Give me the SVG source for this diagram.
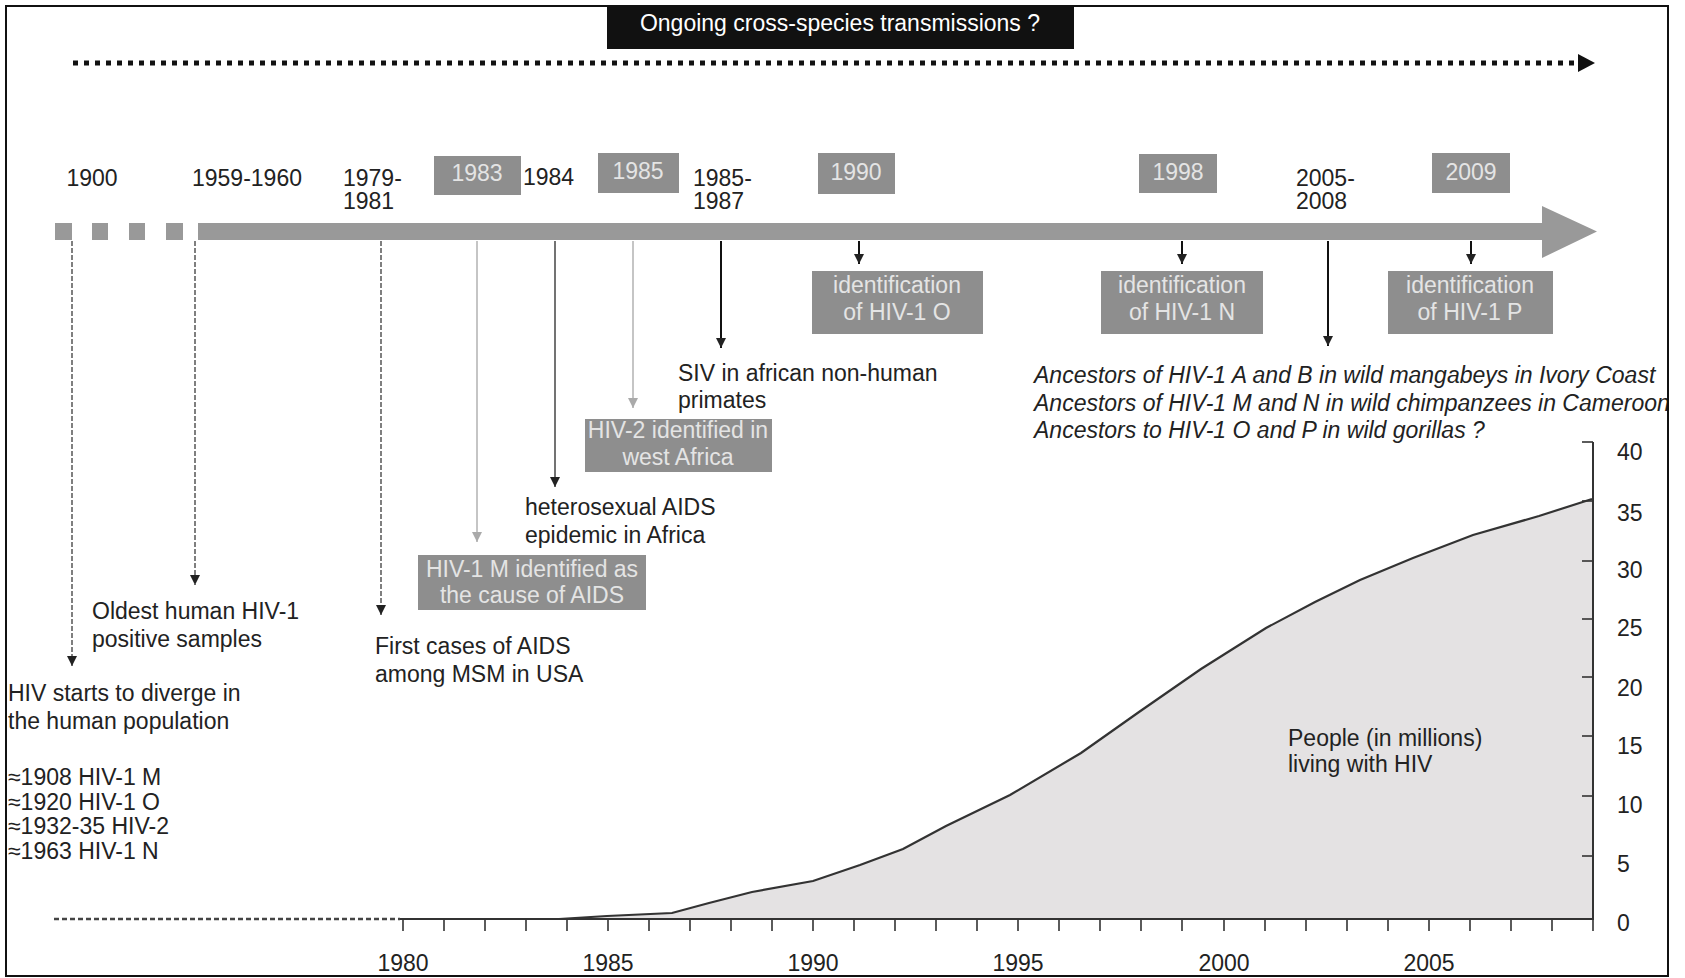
<svg xmlns="http://www.w3.org/2000/svg" width="1685" height="978" viewBox="0 0 1685 978">
<style>
  text { font-family: "Liberation Sans", Arial, sans-serif; font-size: 23px; fill: #222; }
  .it { font-style: italic; }
  .bt { fill: #e4e4e4; text-anchor: middle; }
  .box { fill: #8e8e8e; }
  .c { text-anchor: middle; }
  .vd { stroke: #555; stroke-width: 1.5; stroke-dasharray: 5 2; fill: none; }
  .vl { stroke: #b2b2b2; stroke-width: 1.5; fill: none; }
  .vs { stroke: #444; stroke-width: 1.5; fill: none; }
  .vk { stroke: #111; stroke-width: 2; fill: none; }
  .tick { stroke: #333; stroke-width: 1.6; }
</style>
<defs>
  <marker id="ad" markerUnits="userSpaceOnUse" markerWidth="10" markerHeight="10" refX="10" refY="5" orient="auto">
    <path d="M0,0 L10,5 L0,10 z" fill="#222"/>
  </marker>
  <marker id="al" markerUnits="userSpaceOnUse" markerWidth="10" markerHeight="10" refX="10" refY="5" orient="auto">
    <path d="M0,0 L10,5 L0,10 z" fill="#aaa"/>
  </marker>
  <clipPath id="frameClip"><rect x="6" y="6" width="1662" height="970"/></clipPath>
</defs>
<rect x="0" y="0" width="1685" height="978" fill="#fff"/>

<g clip-path="url(#frameClip)">
<!-- top banner -->
<g id="banner">
  <rect x="607" y="6" width="467" height="43" fill="#111"/>
  <text x="840" y="31" class="c" style="fill:#fff">Ongoing cross-species transmissions ?</text>
</g>
<g id="cross-species-arrow">
  <line x1="73" y1="63" x2="1578" y2="63" stroke="#111" stroke-width="5" stroke-dasharray="5 6"/>
  <path d="M1578,54 L1595,63 L1578,72 z" fill="#111"/>
</g>

<!-- timeline -->
<g id="timeline" fill="#999">
  <rect x="55" y="223" width="17" height="17"/>
  <rect x="92" y="223" width="16" height="17"/>
  <rect x="129" y="223" width="16" height="17"/>
  <rect x="166" y="223" width="17" height="17"/>
  <path d="M198,223 L1542,223 L1542,206 L1597,231.5 L1542,258 L1542,240 L198,240 z"/>
</g>

<!-- year labels -->
<g id="y1900"><text x="92" y="186" class="c">1900</text></g>
<g id="y1959"><text x="247" y="186" class="c">1959-1960</text></g>
<g id="y1979"><text x="343" y="186">1979-</text><text x="343" y="209">1981</text></g>
<g id="y1983"><rect x="434" y="156" width="87" height="39" class="box"/><text x="477" y="181" class="bt">1983</text></g>
<g id="y1984"><text x="523" y="185">1984</text></g>
<g id="y1985"><rect x="598" y="153" width="81" height="40" class="box"/><text x="638" y="179" class="bt">1985</text></g>
<g id="y1985b"><text x="693" y="186">1985-</text><text x="693" y="209">1987</text></g>
<g id="y1990"><rect x="818" y="153" width="77" height="41" class="box"/><text x="856" y="180" class="bt">1990</text></g>
<g id="y1998"><rect x="1139" y="154" width="78" height="39" class="box"/><text x="1178" y="180" class="bt">1998</text></g>
<g id="y2005"><text x="1296" y="186">2005-</text><text x="1296" y="209">2008</text></g>
<g id="y2009"><rect x="1432" y="153" width="78" height="40" class="box"/><text x="1471" y="180" class="bt">2009</text></g>

<!-- connectors -->
<g id="connectors">
  <line x1="72" y1="241" x2="72" y2="666" class="vd" marker-end="url(#ad)"/>
  <line x1="195" y1="241" x2="195" y2="585" class="vd" marker-end="url(#ad)"/>
  <line x1="381" y1="241" x2="381" y2="615" class="vd" marker-end="url(#ad)"/>
  <line x1="477" y1="241" x2="477" y2="542" class="vl" marker-end="url(#al)"/>
  <line x1="555" y1="241" x2="555" y2="487" class="vs" marker-end="url(#ad)"/>
  <line x1="633" y1="241" x2="633" y2="408" class="vl" marker-end="url(#al)"/>
  <line x1="721" y1="241" x2="721" y2="348" class="vk" marker-end="url(#ad)"/>
  <line x1="859" y1="241" x2="859" y2="264" class="vk" marker-end="url(#ad)"/>
  <line x1="1182" y1="241" x2="1182" y2="264" class="vk" marker-end="url(#ad)"/>
  <line x1="1328" y1="241" x2="1328" y2="346" class="vk" marker-end="url(#ad)"/>
  <line x1="1471" y1="241" x2="1471" y2="264" class="vk" marker-end="url(#ad)"/>
</g>

<!-- event nodes -->
<g id="ev-diverge">
  <text x="8" y="701">HIV starts to diverge in</text>
  <text x="8" y="729">the human population</text>
  <text x="8" y="785">≈1908 HIV-1 M</text>
  <text x="8" y="810">≈1920 HIV-1 O</text>
  <text x="8" y="834">≈1932-35 HIV-2</text>
  <text x="8" y="859">≈1963 HIV-1 N</text>
</g>
<g id="ev-oldest">
  <text x="92" y="619">Oldest human HIV-1</text>
  <text x="92" y="647">positive samples</text>
</g>
<g id="ev-first">
  <text x="375" y="654">First cases of AIDS</text>
  <text x="375" y="682">among MSM in USA</text>
</g>
<g id="ev-hiv1m">
  <rect x="418" y="555" width="228" height="55" class="box"/>
  <text x="532" y="577" class="bt">HIV-1 M identified as</text>
  <text x="532" y="603" class="bt">the cause of AIDS</text>
</g>
<g id="ev-hetero">
  <text x="525" y="515">heterosexual AIDS</text>
  <text x="525" y="543">epidemic in Africa</text>
</g>
<g id="ev-hiv2">
  <rect x="585" y="419" width="187" height="53" class="box"/>
  <text x="678" y="438" class="bt">HIV-2 identified in</text>
  <text x="678" y="465" class="bt">west Africa</text>
</g>
<g id="ev-siv">
  <text x="678" y="381">SIV in african non-human</text>
  <text x="678" y="408">primates</text>
</g>
<g id="ev-hiv1o">
  <rect x="812" y="271" width="171" height="63" class="box"/>
  <text x="897" y="293" class="bt">identification</text>
  <text x="897" y="320" class="bt">of HIV-1 O</text>
</g>
<g id="ev-hiv1n">
  <rect x="1101" y="271" width="162" height="63" class="box"/>
  <text x="1182" y="293" class="bt">identification</text>
  <text x="1182" y="320" class="bt">of HIV-1 N</text>
</g>
<g id="ev-hiv1p">
  <rect x="1388" y="271" width="165" height="63" class="box"/>
  <text x="1470" y="293" class="bt">identification</text>
  <text x="1470" y="320" class="bt">of HIV-1 P</text>
</g>
<g id="ev-ancestors">
  <text x="1034" y="383" class="it">Ancestors of HIV-1 A and B in wild mangabeys in Ivory Coast</text>
  <text x="1034" y="411" class="it">Ancestors of HIV-1 M and N in wild chimpanzees in Cameroon</text>
  <text x="1034" y="438" class="it">Ancestors to HIV-1 O and P in wild gorillas ?</text>
</g>

<!-- chart -->
<g id="chart">
  <path d="M559,919 L607,916 L672,913 L709,903 L752,892 L813,881 L860,865 L903,849 L946,826 L1010,795 L1081,753 L1139,712 L1201,669 L1266,628 L1315,602 L1360,580 L1413,558 L1473,535 L1539,516 L1592,499 L1592,919 z" fill="#e4e2e3"/>
  <path d="M559,919 L607,916 L672,913 L709,903 L752,892 L813,881 L860,865 L903,849 L946,826 L1010,795 L1081,753 L1139,712 L1201,669 L1266,628 L1315,602 L1360,580 L1413,558 L1473,535 L1539,516 L1592,499" fill="none" stroke="#333" stroke-width="2.2"/>
  <line x1="54" y1="919" x2="400" y2="919" stroke="#444" stroke-width="2.5" stroke-dasharray="5 3"/>
  <line x1="400" y1="919" x2="1593" y2="919" stroke="#333" stroke-width="2.2"/>
  <line x1="1593" y1="442" x2="1593" y2="920" stroke="#333" stroke-width="2"/>
  <g class="tick">
    <line x1="403" y1="919" x2="403" y2="931"/><line x1="444" y1="919" x2="444" y2="931"/><line x1="485" y1="919" x2="485" y2="931"/><line x1="526" y1="919" x2="526" y2="931"/><line x1="567" y1="919" x2="567" y2="931"/>
    <line x1="608" y1="919" x2="608" y2="931"/><line x1="649" y1="919" x2="649" y2="931"/><line x1="690" y1="919" x2="690" y2="931"/><line x1="731" y1="919" x2="731" y2="931"/><line x1="772" y1="919" x2="772" y2="931"/>
    <line x1="813" y1="919" x2="813" y2="931"/><line x1="854" y1="919" x2="854" y2="931"/><line x1="895" y1="919" x2="895" y2="931"/><line x1="936" y1="919" x2="936" y2="931"/><line x1="977" y1="919" x2="977" y2="931"/>
    <line x1="1018" y1="919" x2="1018" y2="931"/><line x1="1059" y1="919" x2="1059" y2="931"/><line x1="1100" y1="919" x2="1100" y2="931"/><line x1="1141" y1="919" x2="1141" y2="931"/><line x1="1182" y1="919" x2="1182" y2="931"/>
    <line x1="1224" y1="919" x2="1224" y2="931"/><line x1="1265" y1="919" x2="1265" y2="931"/><line x1="1306" y1="919" x2="1306" y2="931"/><line x1="1347" y1="919" x2="1347" y2="931"/><line x1="1388" y1="919" x2="1388" y2="931"/>
    <line x1="1429" y1="919" x2="1429" y2="931"/><line x1="1470" y1="919" x2="1470" y2="931"/><line x1="1511" y1="919" x2="1511" y2="931"/><line x1="1552" y1="919" x2="1552" y2="931"/><line x1="1593" y1="919" x2="1593" y2="931"/>
    <line x1="1582" y1="442" x2="1593" y2="442"/><line x1="1582" y1="501" x2="1593" y2="501"/><line x1="1582" y1="561" x2="1593" y2="561"/><line x1="1582" y1="619" x2="1593" y2="619"/>
    <line x1="1582" y1="677" x2="1593" y2="677"/><line x1="1582" y1="736" x2="1593" y2="736"/><line x1="1582" y1="796" x2="1593" y2="796"/><line x1="1582" y1="856" x2="1593" y2="856"/>
  </g>
  <text x="1617" y="460">40</text>
  <text x="1617" y="521">35</text>
  <text x="1617" y="578">30</text>
  <text x="1617" y="636">25</text>
  <text x="1617" y="696">20</text>
  <text x="1617" y="754">15</text>
  <text x="1617" y="813">10</text>
  <text x="1617" y="872">5</text>
  <text x="1617" y="931">0</text>
  <text x="403" y="971" class="c">1980</text>
  <text x="608" y="971" class="c">1985</text>
  <text x="813" y="971" class="c">1990</text>
  <text x="1018" y="971" class="c">1995</text>
  <text x="1224" y="971" class="c">2000</text>
  <text x="1429" y="971" class="c">2005</text>
  <text x="1288" y="746">People (in millions)</text>
  <text x="1288" y="772">living with HIV</text>
</g>
</g>

<rect id="frame" x="6" y="6" width="1662" height="970" fill="none" stroke="#111" stroke-width="2"/>
</svg>
